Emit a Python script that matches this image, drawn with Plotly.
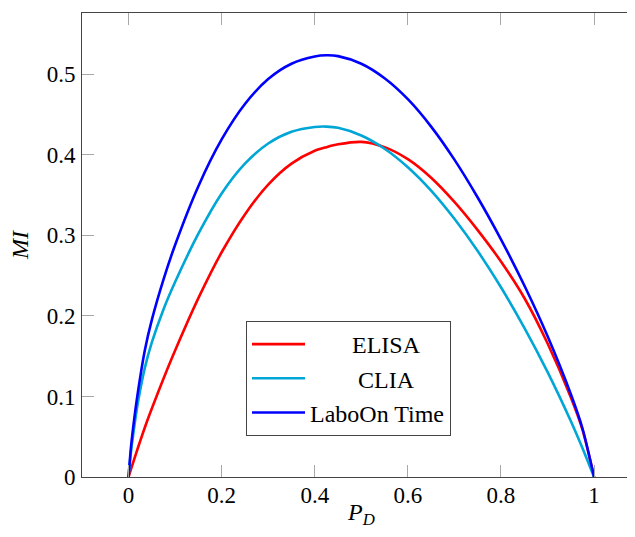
import plotly.graph_objects as go

# Prevalence P_D values at which the curves were read
p_d = [0.0, 0.005, 0.01, 0.02, 0.035, 0.05, 0.075, 0.1, 0.15, 0.2, 0.25, 0.3, 0.35,
       0.4, 0.425, 0.45, 0.5, 0.55, 0.6, 0.65, 0.7, 0.75, 0.8, 0.85, 0.9, 0.95,
       0.975, 1.0]

mi_elisa = [0.0, 0.0092, 0.0183, 0.036, 0.0615, 0.085, 0.122, 0.157, 0.222, 0.279,
            0.326, 0.363, 0.389, 0.405, 0.4095, 0.413, 0.416, 0.4095, 0.3945, 0.3715,
            0.3415, 0.3065, 0.2675, 0.2225, 0.166, 0.099, 0.059, 0.0]

mi_clia = [0.0, 0.030, 0.053, 0.092, 0.1355, 0.167, 0.208, 0.242, 0.302, 0.352,
           0.389, 0.414, 0.4285, 0.4345, 0.435, 0.4335, 0.424, 0.4075, 0.3845, 0.3555,
           0.3205, 0.2805, 0.2355, 0.1855, 0.1305, 0.0695, 0.036, 0.0]

mi_laboon = [0.0, 0.036, 0.062, 0.105, 0.1575, 0.195, 0.245, 0.288, 0.361, 0.419,
             0.463, 0.494, 0.513, 0.522, 0.5235, 0.5225, 0.513, 0.495, 0.469, 0.435,
             0.394, 0.347, 0.295, 0.238, 0.175, 0.103, 0.0605, 0.0]

series_names = ["ELISA", "CLIA", "LaboOn Time"]
series_colors = ["#ff0000", "#00a6d6", "#0000ff"]

x_ticks = [0, 0.2, 0.4, 0.6, 0.8, 1.0]
x_tick_labels = ["0", "0.2", "0.4", "0.6", "0.8", "1"]
y_ticks = [0, 0.1, 0.2, 0.3, 0.4, 0.5]
y_tick_labels = ["0", "0.1", "0.2", "0.3", "0.4", "0.5"]

FONT = "Liberation Serif"
NB = "\u00a0"
legend_labels = [NB * 7 + series_names[0], NB * 8 + series_names[1], series_names[2]]

fig = go.Figure()
for vals, name, col in zip([mi_elisa, mi_clia, mi_laboon], legend_labels, series_colors):
    fig.add_trace(go.Scatter(x=p_d, y=vals, mode="lines", name=name,
                             line=dict(color=col, width=2.6, shape="spline", smoothing=0.8)))

frame = "#454545"
tickc = "#a8a8a8"

# the page puts the figure 8px in from its corner; size it so nothing overflows
W, H = 619, 521
L, R, T, B = 74, 619, 5, 469
PW, PH = R - L, B - T

fig.update_layout(
    width=W, height=H,
    margin=dict(l=L, r=W - R, t=T, b=H - B, autoexpand=False),
    paper_bgcolor="white", plot_bgcolor="white",
    font=dict(family=FONT, size=23, color="black"),
    showlegend=True,
    legend=dict(x=(238 - L) / PW, y=(B - 313) / PH, xanchor="left", yanchor="top",
                bgcolor="white", bordercolor=frame, borderwidth=1,
                font=dict(family=FONT, size=24), itemwidth=53,
                tracegroupgap=0),
    xaxis=dict(range=[-0.1, -0.1 + PW / 465.5], tickvals=x_ticks, ticktext=x_tick_labels,
               ticks="inside", ticklen=12, tickcolor=tickc, tickwidth=1,
               showline=True, linecolor=frame, linewidth=1, mirror="ticks",
               showgrid=False, zeroline=False, ticklabelstandoff=-3,
               automargin=False),
    yaxis=dict(range=[0, 0.576], tickvals=y_ticks, ticktext=y_tick_labels,
               ticks="inside", ticklen=12, tickcolor=tickc, tickwidth=1,
               showline=True, linecolor=frame, linewidth=1, mirror=False,
               showgrid=False, zeroline=False, ticklabelstandoff=1,
               automargin=False),
    yaxis2=dict(range=[0, 0.576], overlaying="y", side="right", tickvals=y_ticks,
                ticks="inside", ticklen=8, tickcolor=tickc, showticklabels=False,
                showline=False, showgrid=False, zeroline=False, automargin=False),
)

fig.add_annotation(text="<i>MI</i>", xref="paper", yref="paper",
                   x=(12 - L) / PW, y=0.5, showarrow=False, textangle=-90,
                   font=dict(family=FONT, size=24), xanchor="center", yanchor="middle")
fig.add_annotation(text="<i>P</i><sub><i>D</i></sub>", xref="paper", yref="paper",
                   x=(353 - L) / PW, y=(B - 506) / PH, showarrow=False,
                   font=dict(family=FONT, size=24), xanchor="center", yanchor="middle")

fig.write_html("out.html")
